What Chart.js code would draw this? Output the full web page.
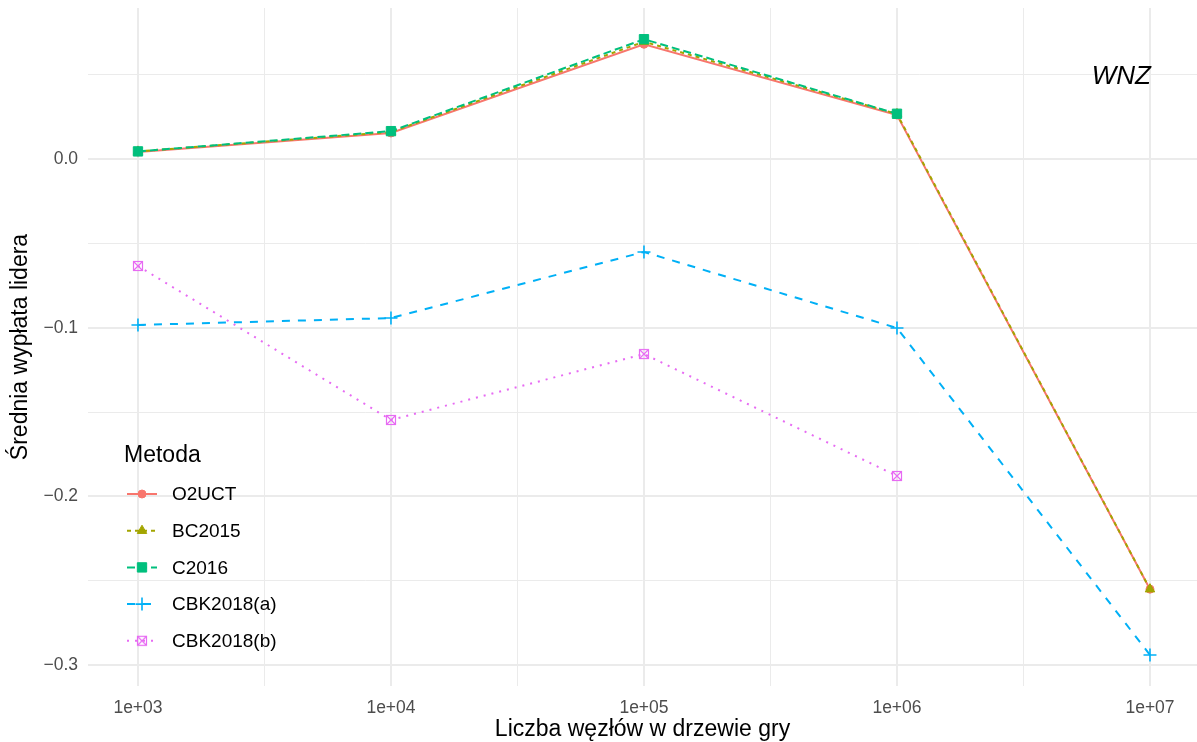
<!DOCTYPE html>
<html>
<head>
<meta charset="utf-8">
<script src="https://cdn.jsdelivr.net/npm/chart.js@4.4.1/dist/chart.umd.min.js"></script>
<style>
  html, body { margin: 0; padding: 0; background: #fff; overflow: hidden; }
  #wrap { width: 1197px; height: 742px; position: relative; }
</style>
</head>
<body>
<div id="wrap"><canvas id="chart"></canvas></div>
<script>
// Data
const nodeCounts = [1e3, 1e4, 1e5, 1e6, 1e7];
const xTickValues = [1e3, 1e4, 1e5, 1e6, 1e7];
const xTickLabels = ['1e+03', '1e+04', '1e+05', '1e+06', '1e+07'];
const xMinorValues = [3162.28, 31622.8, 316228, 3162278];
const yTickValues = [0.0, -0.1, -0.2, -0.3];
const yTickLabels = ['0.0', '\u22120.1', '\u22120.2', '\u22120.3'];
const yMinorValues = [0.05, -0.05, -0.15, -0.25];

const methodNames = ['O2UCT', 'BC2015', 'C2016', 'CBK2018(a)', 'CBK2018(b)'];
const o2uct    = [0.0041, 0.0154, 0.0680, 0.0260, -0.2550];
const bc2015   = [0.0045, 0.0160, 0.0695, 0.0267, -0.2550];
const c2016    = [0.0045, 0.0165, 0.0710, 0.0268, null];
const cbk2018a = [-0.0984, -0.0943, -0.0551, -0.1002, -0.2940];
const cbk2018b = [-0.0634, -0.1547, -0.1156, -0.1879, null];

const panelLabel = 'WNZ';
const panelLabelX = 1e7;
const panelLabelY = 0.05;

const FONT = '"Liberation Sans", Arial, Helvetica, sans-serif';
const GRID = '#EBEBEB';

// square with an X, like ggplot shape 7
function squareCross(color) {
    const c = document.createElement('canvas');
    c.width = 12; c.height = 12;
    const g = c.getContext('2d');
    g.strokeStyle = color;
    g.lineWidth = 1.2;
    g.strokeRect(1.5, 1.5, 9, 9);
    g.beginPath();
    g.moveTo(1.5, 1.5); g.lineTo(10.5, 10.5);
    g.moveTo(10.5, 1.5); g.lineTo(1.5, 10.5);
    g.stroke();
    return c;
}

const styles = [
    { color: '#F8766D', dash: [],     point: 'circle',   radius: 4,   bw: 1 },
    { color: '#A3A500', dash: [4, 4], point: 'triangle', radius: 5.5, bw: 1 },
    { color: '#00BF7D', dash: [8, 4], point: 'rect',     radius: 6.6, bw: 1 },
    { color: '#00B0F6', dash: [8, 8], point: 'cross',    radius: 6.5, bw: 1.6 },
    { color: '#E76BF3', dash: [2, 6], point: squareCross('#E76BF3'), radius: 6, bw: 1 }
];

const seriesValues = [o2uct, bc2015, c2016, cbk2018a, cbk2018b];

const datasets = methodNames.map((name, i) => ({
    label: name,
    data: nodeCounts.map((x, j) => ({ x: x, y: seriesValues[i][j] })),
    borderColor: styles[i].color,
    backgroundColor: styles[i].color,
    borderWidth: 2,
    borderDash: styles[i].dash,
    pointStyle: styles[i].point,
    pointRadius: styles[i].radius,
    pointBorderWidth: styles[i].bw,
    pointHoverRadius: styles[i].radius,
    tension: 0,
    spanGaps: false,
    order: methodNames.length - i
}));

// legend drawn inside the panel (ggplot style)
const insideLegend = {
    id: 'insideLegend',
    afterDraw(chart) {
        const ctx = chart.ctx;
        const area = chart.chartArea;
        const x0 = area.left + 39;
        ctx.save();
        ctx.fillStyle = '#000';
        ctx.textBaseline = 'middle';
        ctx.textAlign = 'left';
        ctx.font = '23px ' + FONT;
        ctx.fillText('Metoda', area.left + 36, 456);
        chart.data.datasets.forEach((ds, i) => {
            const y = 494 + i * 36.7;
            const st = styles[i];
            ctx.save();
            ctx.strokeStyle = st.color;
            ctx.lineWidth = 2;
            ctx.setLineDash(st.dash);
            ctx.beginPath();
            ctx.moveTo(x0, y);
            ctx.lineTo(x0 + 30, y);
            ctx.stroke();
            ctx.setLineDash([]);
            ctx.fillStyle = st.color;
            ctx.lineWidth = st.bw;
            Chart.helpers.drawPoint(ctx, { pointStyle: st.point, radius: st.radius, rotation: 0, borderWidth: st.bw }, x0 + 15, y);
            ctx.restore();
            ctx.fillStyle = '#000';
            ctx.font = '19px ' + FONT;
            ctx.fillText(ds.label, x0 + 45, y + 1);
        });
        // panel label
        const xs = chart.scales.x, ys = chart.scales.y;
        ctx.font = 'italic 26px ' + FONT;
        ctx.textAlign = 'right';
        ctx.fillText(panelLabel, xs.getPixelForValue(panelLabelX) + 1, ys.getPixelForValue(panelLabelY) + 2);
        ctx.restore();
    }
};

const ctx = document.getElementById('chart').getContext('2d');
new Chart(ctx, {
    type: 'line',
    data: { datasets: datasets },
    options: {
        responsive: true,
        maintainAspectRatio: false,
        animation: false,
        layout: {
            autoPadding: false,
            padding: { top: 8, left: 0, right: 0, bottom: 0 }
        },
        plugins: {
            legend: { display: false },
            tooltip: { enabled: false }
        },
        scales: {
            x: {
                type: 'logarithmic',
                min: 634.6,
                max: 1.534e7,
                afterBuildTicks(scale) {
                    scale.ticks = xTickValues.concat(xMinorValues).sort((a, b) => a - b).map(v => ({ value: v }));
                },
                afterFit(scale) {
                    scale.height = 56;
                    scale.paddingLeft = 0;
                    scale.paddingRight = 0;
                },
                grid: {
                    color: GRID,
                    lineWidth: c => xTickValues.includes(c.tick && c.tick.value) ? 2 : 1,
                    drawTicks: false
                },
                border: { display: false },
                ticks: {
                    autoSkip: false,
                    maxRotation: 0,
                    padding: 12,
                    color: '#4D4D4D',
                    font: { family: FONT, size: 17.5 },
                    callback: v => {
                        const k = xTickValues.indexOf(v);
                        return k >= 0 ? xTickLabels[k] : '';
                    }
                },
                title: {
                    display: true,
                    text: 'Liczba węzłów w drzewie gry',
                    color: '#000',
                    font: { family: FONT, size: 23 },
                    padding: { top: 0, bottom: -1 }
                }
            },
            y: {
                type: 'linear',
                min: -0.3124,
                max: 0.0895,
                afterBuildTicks(scale) {
                    scale.ticks = yTickValues.concat(yMinorValues).sort((a, b) => a - b).map(v => ({ value: v }));
                },
                afterFit(scale) {
                    scale.width = 88;
                    scale.paddingTop = 0;
                    scale.paddingBottom = 0;
                },
                grid: {
                    color: GRID,
                    lineWidth: c => yTickValues.includes(c.tick && c.tick.value) ? 2 : 1,
                    drawTicks: false
                },
                border: { display: false },
                ticks: {
                    autoSkip: false,
                    padding: 10,
                    color: '#4D4D4D',
                    font: { family: FONT, size: 17.5 },
                    callback: v => {
                        const k = yTickValues.indexOf(v);
                        return k >= 0 ? yTickLabels[k] : '';
                    }
                },
                title: {
                    display: true,
                    text: 'Średnia wypłata lidera',
                    color: '#000',
                    font: { family: FONT, size: 23 },
                    padding: { top: 7, bottom: 7 }
                }
            }
        }
    },
    plugins: [insideLegend]
});
</script>
</body>
</html>
